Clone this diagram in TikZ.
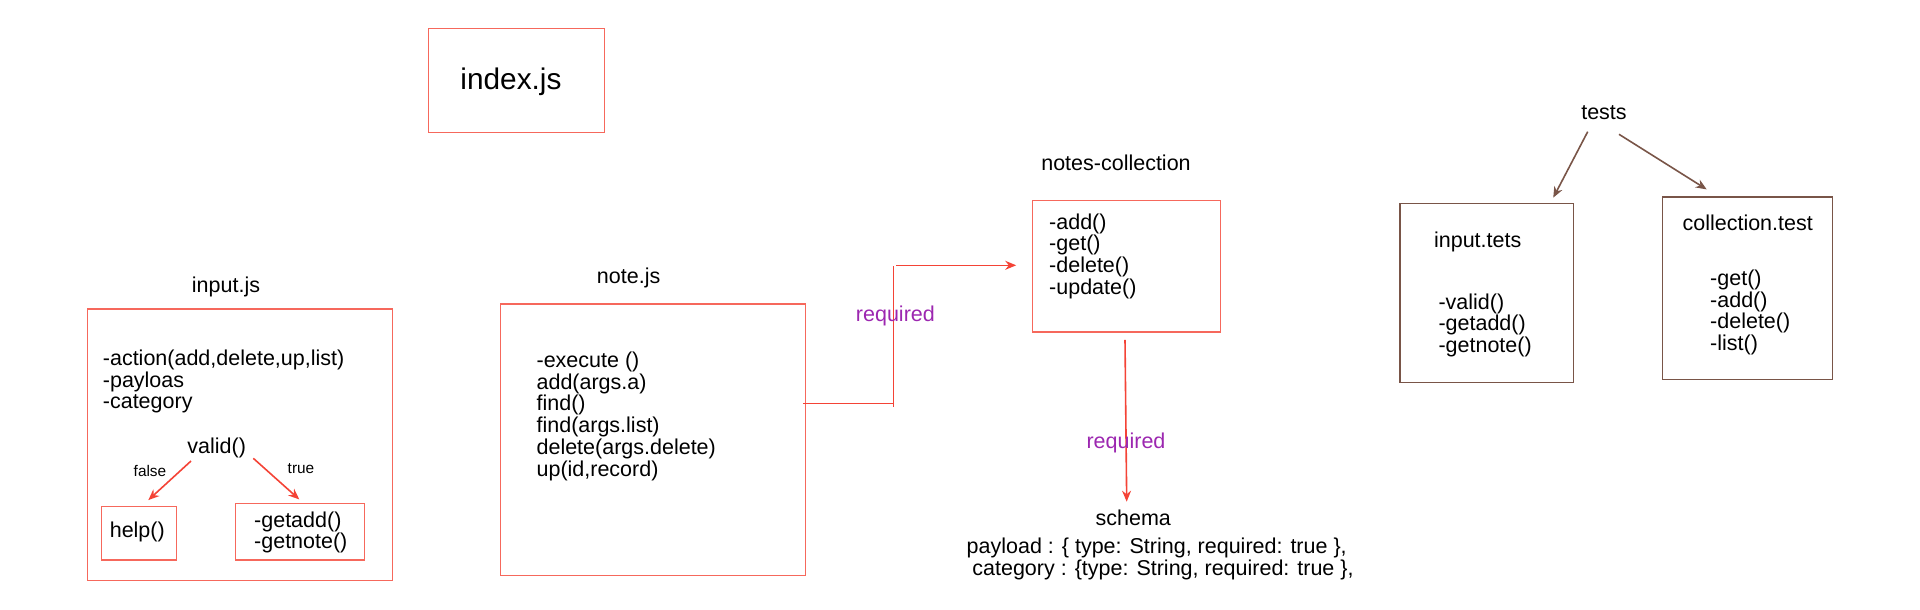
\documentclass[tikz,border=0pt]{standalone}
\usepackage{fontspec}
\setmainfont{Liberation Sans}
\usetikzlibrary{arrows.meta,calc}
\definecolor{boxred}{RGB}{246,104,92}
\definecolor{arrred}{RGB}{244,67,54}
\definecolor{reqpurple}{RGB}{156,39,176}
\definecolor{brownc}{RGB}{121,85,72}
\newcommand{\fnorm}{\fontsize{21.5}{21.7}\selectfont}
\newcommand{\fsmall}{\fontsize{15.4}{16}\selectfont}
\newcommand{\fbig}{\fontsize{29.8}{30}\selectfont}
\tikzset{
  rbox/.style={draw=boxred, line width=1.2pt, inner sep=0pt},
  bbox/.style={draw=brownc, line width=1.2pt, inner sep=0pt},
  txt/.style={inner sep=0pt, font=\fnorm, align=left},
  rline/.style={draw=arrred, line width=1.6pt},
  rarrow/.style={draw=arrred, line width=1.6pt, -{Stealth[length=11pt,width=9pt]}},
  barrow/.style={draw=brownc, line width=1.6pt, -{Stealth[length=11pt,width=9pt]}},
  reqlbl/.style={inner sep=0pt, font=\fnorm, text=reqpurple}
}
\begin{document}
\begin{tikzpicture}[x=1pt,y=-1pt]
\useasboundingbox (0,0) rectangle (1920,610);
% index.js
\node[rbox, minimum width=176pt, minimum height=104pt] (indexbox) at (516.3,80.3) {};
\node[inner sep=0pt, font=\fbig] (indextxt) at (511,81.7) {index.js};
% input.js
\node[txt] (inputtitle) at (226,286.7) {input.js};
\node[rbox, minimum width=305pt, minimum height=271.7pt] (inbox) at (239.8,444.85) {};
\node[txt, anchor=west] (intxt) at (102.7,381.65) {-action(add,delete,up,list)\\-payloas\\-category};
\node[txt] (valid) at (216.7,448.3) {valid()};
\node[rbox, minimum width=75pt, minimum height=53.3pt] (helpbox) at (139.2,533.35) {};
\node[txt] (helptxt) at (137.3,531.7) {help()};
\node[rbox, minimum width=128.6pt, minimum height=56.7pt] (getbox) at (300,531.65) {};
\node[txt, anchor=west] (gettxt) at (254,532.5) {-getadd()\\-getnote()};
\node[inner sep=0pt, font=\fsmall] (falselbl) at (150,470.7) {false};
\node[inner sep=0pt, font=\fsmall] (truelbl) at (301,469) {true};
\draw[rarrow] ($(valid.center)+(-25.7,12.7)$) -- ($(helpbox.north)+(9.1,-6)$);
\draw[rarrow] ($(valid.center)+(36.6,10)$) -- ($(getbox.north)+(-0.7,-3.3)$);
% note.js
\node[txt] (notetitle) at (628.6,277.7) {note.js};
\node[rbox, minimum width=304.7pt, minimum height=271.7pt] (notebox) at (653.05,439.85) {};
\node[txt, anchor=west] (notetxt) at (536.4,416.2) {-execute ()\\add(args.a)\\find()\\find(args.list)\\delete(args.delete)\\up(id,record)};
% notes-collection
\node[txt] (nctitle) at (1116,163.3) {notes-collection};
\node[rbox, minimum width=187.6pt, minimum height=131.7pt] (ncbox) at (1126.5,266.15) {};
\node[txt, anchor=west] (nctxt) at (1049,256) {-add()\\-get()\\-delete()\\-update()};
% connector note.js -> notes-collection
\coordinate (c0) at (893.6,406.7);
\coordinate (c1) at (893.6,403.3);
\coordinate (c2) at (893.6,266);
\coordinate (c3) at (896,265.3);
\draw[rline] ([xshift=-2.6pt]notebox.east |- c1) -- (c1);
\draw[rline] (c0) -- (c2);
\draw[rarrow, shorten >=15.9pt] (c3) -- (ncbox.west |- c3);
\node[reqlbl] (req1) at (895.4,315.7) {required};
% schema
\node[txt] (schema) at (1133.3,518.3) {schema};
\node[txt] (payload) at (1156.7,548.3) {payload : \{ type: String, required: true \},};
\node[txt] (category) at (1163,570) {category : \{type: String, required: true \},};
\draw[rarrow] ([xshift=-1.5pt,yshift=-7.3pt]ncbox.south) -- (1126.7,501.7) coordinate (schemaend);
\node[reqlbl] (req2) at (1126,442.7) {required};
% tests
\node[txt] (tests) at (1604,112.7) {tests};
\node[bbox, minimum width=173.3pt, minimum height=179.4pt] (itbox) at (1486.65,293) {};
\node[txt] (ittitle) at (1477.7,241.7) {input.tets};
\node[txt, anchor=west] (ittxt) at (1438.3,325.3) {-valid()\\-getadd()\\-getnote()};
\node[bbox, minimum width=170pt, minimum height=182.3pt] (ctbox) at (1747.3,288.15) {};
\node[txt] (cttitle) at (1747.7,223.3) {collection.test};
\node[txt, anchor=west] (cttxt) at (1710,312.5) {-get()\\-add()\\-delete()\\-list()};
\draw[barrow] ($(tests.center)+(-16.3,19)$) -- ($(itbox.north)+(66.6,-5)$);
\draw[barrow] ($(tests.center)+(15,21.6)$) -- ($(ctbox.north)+(-40.6,-7)$);
\end{tikzpicture}
\end{document}
